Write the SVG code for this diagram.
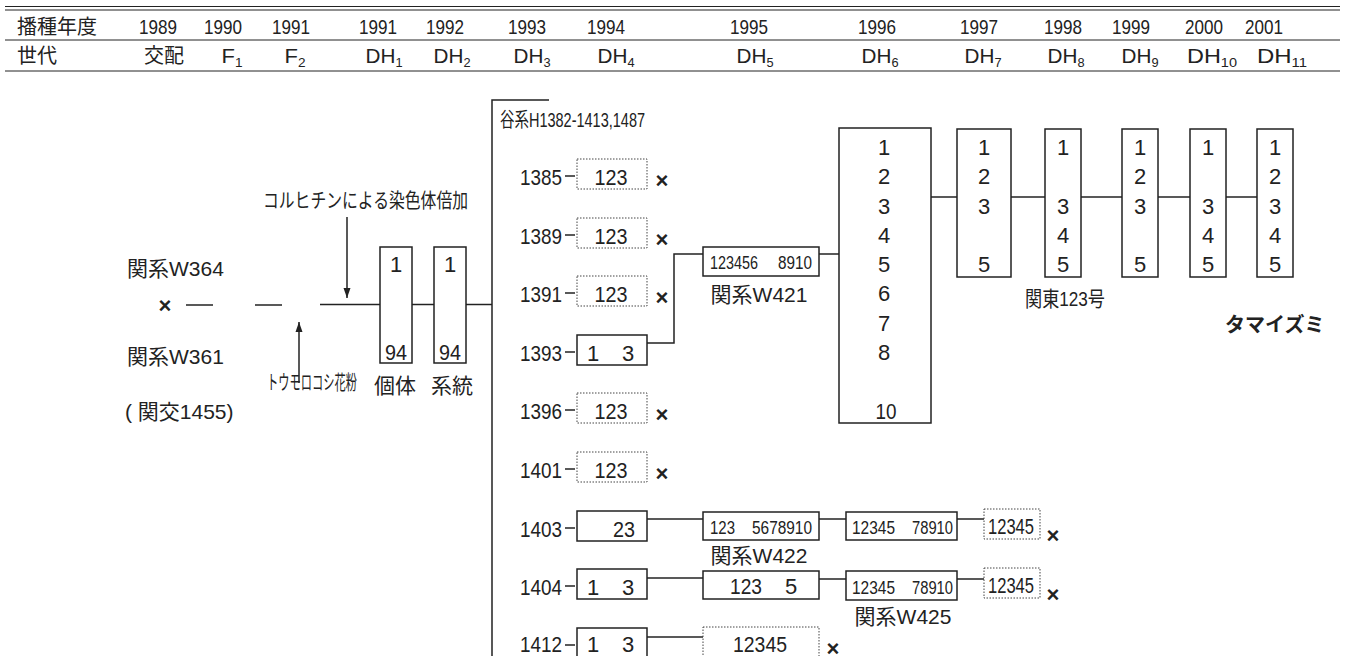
<svg xmlns="http://www.w3.org/2000/svg" width="1345" height="656" viewBox="0 0 1345 656">
<style>
text{fill:#222}
.h{font-family:"Liberation Sans","Noto Sans CJK JP",sans-serif;font-size:21px}
.hj{font-family:"Liberation Sans","Noto Sans CJK JP",sans-serif;font-size:20px}
.n{font-family:"Liberation Sans","Noto Sans CJK JP",sans-serif;font-size:22px}
.s{font-family:"Liberation Sans","Noto Sans CJK JP",sans-serif;font-size:18px}
.j{font-family:"Liberation Sans","Noto Sans CJK JP",sans-serif;font-size:21px}
.x{font-family:"Liberation Sans",sans-serif;font-size:22px;font-weight:bold}
.m{text-anchor:middle}
.e{text-anchor:end}
.b{fill:#fff;stroke:#222;stroke-width:1.5}
.d{fill:#fff;stroke:#444;stroke-width:1;stroke-dasharray:1.5 1.5}
.l{fill:none;stroke:#222;stroke-width:1.5}
.hl{stroke:#222;stroke-width:1}
.sub{font-size:13px}
</style>
<defs>
<marker id="ah" markerUnits="userSpaceOnUse" markerWidth="10" markerHeight="8" refX="10" refY="4" orient="auto"><path d="M0,0.5 L10,4 L0,7.5z" fill="#222"/></marker>
</defs>

<g id="header">
<line class="hl" x1="5" y1="6.5" x2="1340" y2="6.5" stroke-width="1.8"/>
<line class="hl" x1="5" y1="10" x2="1340" y2="10"/>
<line class="hl" x1="5" y1="40" x2="1340" y2="40"/>
<line class="hl" x1="5" y1="71" x2="1340" y2="71"/>
<text class="hj" x="17" y="34" font-size="22px">播種年度</text>
<text class="h m" x="158" y="34" textLength="38" lengthAdjust="spacingAndGlyphs">1989</text>
<text class="h m" x="223" y="34" textLength="38" lengthAdjust="spacingAndGlyphs">1990</text>
<text class="h m" x="291" y="34" textLength="38" lengthAdjust="spacingAndGlyphs">1991</text>
<text class="h m" x="378" y="34" textLength="38" lengthAdjust="spacingAndGlyphs">1991</text>
<text class="h m" x="445" y="34" textLength="38" lengthAdjust="spacingAndGlyphs">1992</text>
<text class="h m" x="527" y="34" textLength="38" lengthAdjust="spacingAndGlyphs">1993</text>
<text class="h m" x="606" y="34" textLength="38" lengthAdjust="spacingAndGlyphs">1994</text>
<text class="h m" x="749" y="34" textLength="38" lengthAdjust="spacingAndGlyphs">1995</text>
<text class="h m" x="877" y="34" textLength="38" lengthAdjust="spacingAndGlyphs">1996</text>
<text class="h m" x="979" y="34" textLength="38" lengthAdjust="spacingAndGlyphs">1997</text>
<text class="h m" x="1063" y="34" textLength="38" lengthAdjust="spacingAndGlyphs">1998</text>
<text class="h m" x="1131" y="34" textLength="38" lengthAdjust="spacingAndGlyphs">1999</text>
<text class="h m" x="1204" y="34" textLength="38" lengthAdjust="spacingAndGlyphs">2000</text>
<text class="h m" x="1264" y="34" textLength="38" lengthAdjust="spacingAndGlyphs">2001</text>
<text class="hj" x="17" y="63" font-size="22px">世代</text>
<text class="hj m" x="164" y="63" font-size="21px">交配</text>
<text class="h m" x="232" y="63" textLength="21" lengthAdjust="spacingAndGlyphs">F<tspan class="sub" dy="4">1</tspan></text>
<text class="h m" x="295" y="63" textLength="21" lengthAdjust="spacingAndGlyphs">F<tspan class="sub" dy="4">2</tspan></text>
<text class="h m" x="384" y="63" textLength="37" lengthAdjust="spacingAndGlyphs">DH<tspan class="sub" dy="4">1</tspan></text>
<text class="h m" x="452" y="63" textLength="37" lengthAdjust="spacingAndGlyphs">DH<tspan class="sub" dy="4">2</tspan></text>
<text class="h m" x="532" y="63" textLength="37" lengthAdjust="spacingAndGlyphs">DH<tspan class="sub" dy="4">3</tspan></text>
<text class="h m" x="616" y="63" textLength="37" lengthAdjust="spacingAndGlyphs">DH<tspan class="sub" dy="4">4</tspan></text>
<text class="h m" x="755" y="63" textLength="37" lengthAdjust="spacingAndGlyphs">DH<tspan class="sub" dy="4">5</tspan></text>
<text class="h m" x="880" y="63" textLength="37" lengthAdjust="spacingAndGlyphs">DH<tspan class="sub" dy="4">6</tspan></text>
<text class="h m" x="983" y="63" textLength="37" lengthAdjust="spacingAndGlyphs">DH<tspan class="sub" dy="4">7</tspan></text>
<text class="h m" x="1066" y="63" textLength="37" lengthAdjust="spacingAndGlyphs">DH<tspan class="sub" dy="4">8</tspan></text>
<text class="h m" x="1140" y="63" textLength="37" lengthAdjust="spacingAndGlyphs">DH<tspan class="sub" dy="4">9</tspan></text>
<text class="h m" x="1212" y="63" textLength="50" lengthAdjust="spacingAndGlyphs">DH<tspan class="sub" dy="4">10</tspan></text>
<text class="h m" x="1282" y="63" textLength="50" lengthAdjust="spacingAndGlyphs">DH<tspan class="sub" dy="4">11</tspan></text>
</g>

<g id="connectors">
<line class="l" x1="186" y1="305" x2="213" y2="305"/>
<line class="l" x1="255" y1="305" x2="282" y2="305"/>
<line class="l" x1="320" y1="304.5" x2="380" y2="304.5"/>
<line class="l" x1="412" y1="304.5" x2="434" y2="304.5"/>
<line class="l" x1="466" y1="304.5" x2="492" y2="304.5"/>
<line class="l" x1="347" y1="217" x2="347" y2="298" marker-end="url(#ah)"/>
<line class="l" x1="299" y1="383" x2="299" y2="322" marker-end="url(#ah)"/>
<polyline class="l" points="549,100 492,100 492,656"/>
<line class="l" x1="565" y1="176" x2="575" y2="176"/>
<line class="l" x1="565" y1="235" x2="575" y2="235"/>
<line class="l" x1="565" y1="293" x2="575" y2="293"/>
<line class="l" x1="565" y1="352" x2="575" y2="352"/>
<line class="l" x1="565" y1="410" x2="575" y2="410"/>
<line class="l" x1="565" y1="469" x2="575" y2="469"/>
<line class="l" x1="565" y1="528" x2="575" y2="528"/>
<line class="l" x1="565" y1="586" x2="575" y2="586"/>
<line class="l" x1="565" y1="645" x2="575" y2="645"/>
<polyline class="l" points="647,343 674,343 674,254 703,254"/>
<line class="l" x1="819" y1="254" x2="839" y2="254"/>
<line class="l" x1="931" y1="197" x2="957" y2="197"/>
<line class="l" x1="1011" y1="197" x2="1045" y2="197"/>
<line class="l" x1="1081" y1="197" x2="1122" y2="197"/>
<line class="l" x1="1158" y1="197" x2="1190" y2="197"/>
<line class="l" x1="1226" y1="197" x2="1257" y2="197"/>
<line class="l" x1="647" y1="519" x2="703" y2="519"/>
<line class="l" x1="819" y1="519" x2="846" y2="519"/>
<line class="l" x1="957" y1="519" x2="984" y2="519"/>
<line class="l" x1="647" y1="578" x2="703" y2="578"/>
<line class="l" x1="819" y1="579" x2="846" y2="579"/>
<line class="l" x1="957" y1="579" x2="984" y2="579"/>
<line class="l" x1="647" y1="637" x2="703" y2="637"/>
</g>

<g id="parents">
<text class="j" x="127" y="276">関系W364</text>
<text class="x m" x="165" y="313">×</text>
<text class="j" x="127" y="364">関系W361</text>
<text class="j" x="125" y="419">( 関交1455)</text>
</g>
<g id="colchicine"><text class="hj" x="263" y="208" font-size="16px" textLength="205" lengthAdjust="spacingAndGlyphs">コルヒチンによる染色体倍加</text></g>
<g id="pollen"><text class="hj" x="267" y="390" font-size="16px" textLength="90" lengthAdjust="spacingAndGlyphs">トウモロコシ花粉</text></g>
<g id="kotai">
<rect class="b" x="380" y="247" width="32" height="116"/>
<text class="n m" x="396" y="272">1</text>
<text class="n m" x="396" y="360" textLength="22" lengthAdjust="spacingAndGlyphs">94</text>
<text class="j m" x="395" y="393" font-size="20px">個体</text>
</g>
<g id="keito">
<rect class="b" x="434" y="247" width="32" height="116"/>
<text class="n m" x="450" y="272">1</text>
<text class="n m" x="450" y="360" textLength="22" lengthAdjust="spacingAndGlyphs">94</text>
<text class="j m" x="452" y="393" font-size="20px">系統</text>
</g>
<g id="tanikei"><text class="hj" x="500" y="127" font-size="17px" textLength="145" lengthAdjust="spacingAndGlyphs">谷系H1382-1413,1487</text></g>

<g id="r1385"><text class="n e" x="562" y="185" textLength="42" lengthAdjust="spacingAndGlyphs">1385</text><rect class="d" x="577" y="159" width="70" height="30"/><text class="n m" x="611" y="185" textLength="33" lengthAdjust="spacingAndGlyphs">123</text><text class="x m" x="662" y="188">×</text></g>
<g id="r1389"><text class="n e" x="562" y="244" textLength="42" lengthAdjust="spacingAndGlyphs">1389</text><rect class="d" x="577" y="218" width="70" height="30"/><text class="n m" x="611" y="244" textLength="33" lengthAdjust="spacingAndGlyphs">123</text><text class="x m" x="662" y="247">×</text></g>
<g id="r1391"><text class="n e" x="562" y="302" textLength="42" lengthAdjust="spacingAndGlyphs">1391</text><rect class="d" x="577" y="276" width="70" height="30"/><text class="n m" x="611" y="302" textLength="33" lengthAdjust="spacingAndGlyphs">123</text><text class="x m" x="662" y="305">×</text></g>
<g id="r1393"><text class="n e" x="562" y="361" textLength="42" lengthAdjust="spacingAndGlyphs">1393</text><rect class="b" x="577" y="335" width="70" height="30"/><text class="n m" x="593" y="361">1</text><text class="n m" x="628" y="361">3</text></g>
<g id="r1396"><text class="n e" x="562" y="419" textLength="42" lengthAdjust="spacingAndGlyphs">1396</text><rect class="d" x="577" y="393" width="70" height="30"/><text class="n m" x="611" y="419" textLength="33" lengthAdjust="spacingAndGlyphs">123</text><text class="x m" x="662" y="422">×</text></g>
<g id="r1401"><text class="n e" x="562" y="478" textLength="42" lengthAdjust="spacingAndGlyphs">1401</text><rect class="d" x="577" y="452" width="70" height="30"/><text class="n m" x="611" y="478" textLength="33" lengthAdjust="spacingAndGlyphs">123</text><text class="x m" x="662" y="481">×</text></g>
<g id="r1403"><text class="n e" x="562" y="537" textLength="42" lengthAdjust="spacingAndGlyphs">1403</text><rect class="b" x="577" y="511" width="70" height="30"/><text class="n m" x="624" y="537" textLength="22" lengthAdjust="spacingAndGlyphs">23</text></g>
<g id="r1404"><text class="n e" x="562" y="595" textLength="42" lengthAdjust="spacingAndGlyphs">1404</text><rect class="b" x="577" y="569" width="70" height="30"/><text class="n m" x="593" y="595">1</text><text class="n m" x="628" y="595">3</text></g>
<g id="r1412"><text class="n e" x="562" y="652" textLength="42" lengthAdjust="spacingAndGlyphs">1412</text><rect class="b" x="577" y="628" width="70" height="30"/><text class="n m" x="593" y="652">1</text><text class="n m" x="628" y="652">3</text></g>

<g id="w421"><rect class="b" x="703" y="247" width="116" height="29"/><text class="s" x="710" y="269" textLength="48" lengthAdjust="spacingAndGlyphs">123456</text><text class="s" x="778" y="269" textLength="34" lengthAdjust="spacingAndGlyphs">8910</text><text class="j m" x="759" y="302">関系W421</text></g>
<g id="w422"><rect class="b" x="703" y="512" width="116" height="28"/><text class="s" x="710" y="534" textLength="25" lengthAdjust="spacingAndGlyphs">123</text><text class="s" x="752" y="534" textLength="60" lengthAdjust="spacingAndGlyphs">5678910</text><text class="j m" x="759" y="563">関系W422</text></g>
<g id="r1403c"><rect class="b" x="846" y="512" width="111" height="28"/><text class="s" x="852" y="534" textLength="43" lengthAdjust="spacingAndGlyphs">12345</text><text class="s" x="912" y="534" textLength="41" lengthAdjust="spacingAndGlyphs">78910</text></g>
<g id="r1403d"><rect class="d" x="984" y="509" width="56" height="30"/><text class="n m" x="1011" y="534" font-size="21px" textLength="46" lengthAdjust="spacingAndGlyphs">12345</text><text class="x m" x="1053" y="543">×</text></g>
<g id="r1404b"><rect class="b" x="703" y="571" width="116" height="28"/><text class="n" x="730" y="594" textLength="32" lengthAdjust="spacingAndGlyphs">123</text><text class="n" x="785" y="594">5</text></g>
<g id="w425"><rect class="b" x="846" y="571" width="111" height="29"/><text class="s" x="852" y="594" textLength="43" lengthAdjust="spacingAndGlyphs">12345</text><text class="s" x="912" y="594" textLength="41" lengthAdjust="spacingAndGlyphs">78910</text><text class="j m" x="903" y="624">関系W425</text></g>
<g id="r1404d"><rect class="d" x="984" y="568" width="56" height="30"/><text class="n m" x="1011" y="593" font-size="21px" textLength="46" lengthAdjust="spacingAndGlyphs">12345</text><text class="x m" x="1053" y="602">×</text></g>
<g id="r1412b"><rect class="d" x="703" y="627" width="116" height="30"/><text class="n m" x="760" y="652" textLength="54" lengthAdjust="spacingAndGlyphs">12345</text><text class="x m" x="833" y="656" font-size="20px">×</text></g>

<g id="dh6">
<rect class="b" x="839" y="128" width="92" height="295"/>
<text class="n m" x="884" y="155">1</text>
<text class="n m" x="884" y="184">2</text>
<text class="n m" x="884" y="214">3</text>
<text class="n m" x="884" y="243">4</text>
<text class="n m" x="884" y="272">5</text>
<text class="n m" x="884" y="301">6</text>
<text class="n m" x="884" y="331">7</text>
<text class="n m" x="884" y="360">8</text>
<text class="n m" x="886" y="419" textLength="21" lengthAdjust="spacingAndGlyphs">10</text>
</g>
<g id="dh7">
<rect class="b" x="957" y="129" width="54" height="148"/>
<text class="n m" x="984" y="155">1</text><text class="n m" x="984" y="184">2</text><text class="n m" x="984" y="214">3</text><text class="n m" x="984" y="272">5</text>
</g>
<g id="dh8">
<rect class="b" x="1045" y="129" width="36" height="148"/>
<text class="n m" x="1063" y="155">1</text><text class="n m" x="1063" y="214">3</text><text class="n m" x="1063" y="243">4</text><text class="n m" x="1063" y="272">5</text>
<text class="j m" x="1065" y="306" font-size="19px" textLength="80" lengthAdjust="spacingAndGlyphs">関東123号</text>
</g>
<g id="dh9">
<rect class="b" x="1122" y="129" width="36" height="148"/>
<text class="n m" x="1140" y="155">1</text><text class="n m" x="1140" y="184">2</text><text class="n m" x="1140" y="214">3</text><text class="n m" x="1140" y="272">5</text>
</g>
<g id="dh10">
<rect class="b" x="1190" y="129" width="36" height="148"/>
<text class="n m" x="1208" y="155">1</text><text class="n m" x="1208" y="214">3</text><text class="n m" x="1208" y="243">4</text><text class="n m" x="1208" y="272">5</text>
</g>
<g id="dh11">
<rect class="b" x="1257" y="129" width="36" height="148"/>
<text class="n m" x="1275" y="155">1</text><text class="n m" x="1275" y="184">2</text><text class="n m" x="1275" y="214">3</text><text class="n m" x="1275" y="243">4</text><text class="n m" x="1275" y="272">5</text>
</g>
<g id="tamaizumi"><text class="hj" x="1225" y="332" font-size="19px" font-weight="bold">タマイズミ</text></g>
</svg>
